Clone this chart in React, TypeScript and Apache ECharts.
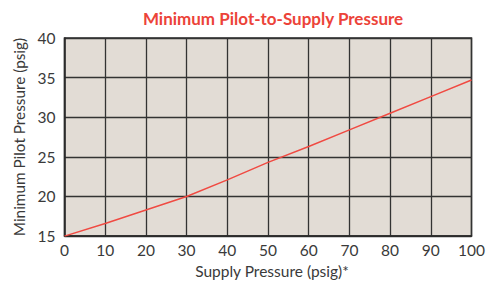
import React, { useEffect, useRef } from "react";
import * as echarts from "echarts";

const supplyPressure = [0, 10, 20, 30, 40, 50, 60, 70, 80, 90, 100];
const pilotPressure = [15, 16.6, 18.3, 20, 22.1, 24.3, 26.3, 28.4, 30.5, 32.6, 34.7];
const titleText = "Minimum Pilot-to-Supply Pressure";
const xName = "Supply Pressure (psig)*";
const yName = "Minimum Pilot Pressure (psig)";

export default function App() {
  const ref = useRef<HTMLDivElement>(null);
  useEffect(() => {
    if (!ref.current) return;
    const chart = echarts.init(ref.current, undefined, { renderer: "svg" });
    const font = "Lato, 'Open Sans', sans-serif";
    chart.setOption({
      animation: false,
      title: {
        text: titleText,
        left: 268,
        textAlign: "center",
        top: 5,
        textStyle: { color: "#ec4339", fontSize: 17, fontWeight: "bold", fontFamily: font },
      },
      grid: {
        left: 64.5,
        right: 30.5,
        top: 38,
        bottom: 45,
        show: true,
        backgroundColor: "#e2dcd5",
        borderColor: "#2a2a2a",
        borderWidth: 1.5,
      },
      xAxis: {
        type: "value",
        min: 0,
        max: 100,
        interval: 10,
        name: xName,
        nameLocation: "middle",
        nameGap: 24,
        nameTextStyle: { color: "#3a3a3a", fontSize: 15.5, fontFamily: font, padding: [0, 0, 0, 8] },
        axisLine: { show: true, lineStyle: { color: "#2a2a2a", width: 1.5 } },
        axisTick: { show: false },
        axisLabel: { color: "#3a3a3a", fontSize: 15.5, fontFamily: font, margin: 6 },
        splitLine: { show: true, lineStyle: { color: "#333", width: 1.3 } },
      },
      yAxis: {
        type: "value",
        min: 15,
        max: 40,
        interval: 5,
        name: yName,
        nameLocation: "middle",
        nameGap: 31,
        nameTextStyle: { color: "#3a3a3a", fontSize: 15.3, fontFamily: font },
        axisLine: { show: true, lineStyle: { color: "#2a2a2a", width: 1.5 } },
        axisTick: { show: false },
        axisLabel: { color: "#3a3a3a", fontSize: 15.5, fontFamily: font, margin: 9 },
        splitLine: { show: true, lineStyle: { color: "#333", width: 1.3 } },
      },
      series: [
        {
          type: "line",
          data: supplyPressure.map((x, i) => [x, pilotPressure[i]]),
          showSymbol: false,
          lineStyle: { color: "#f04a42", width: 1.5 },
        },
      ],
    });
    return () => chart.dispose();
  }, []);
  return <div ref={ref} style={{ width: 502, height: 284, position: "absolute", left: 0, top: 0 }} />;
}
